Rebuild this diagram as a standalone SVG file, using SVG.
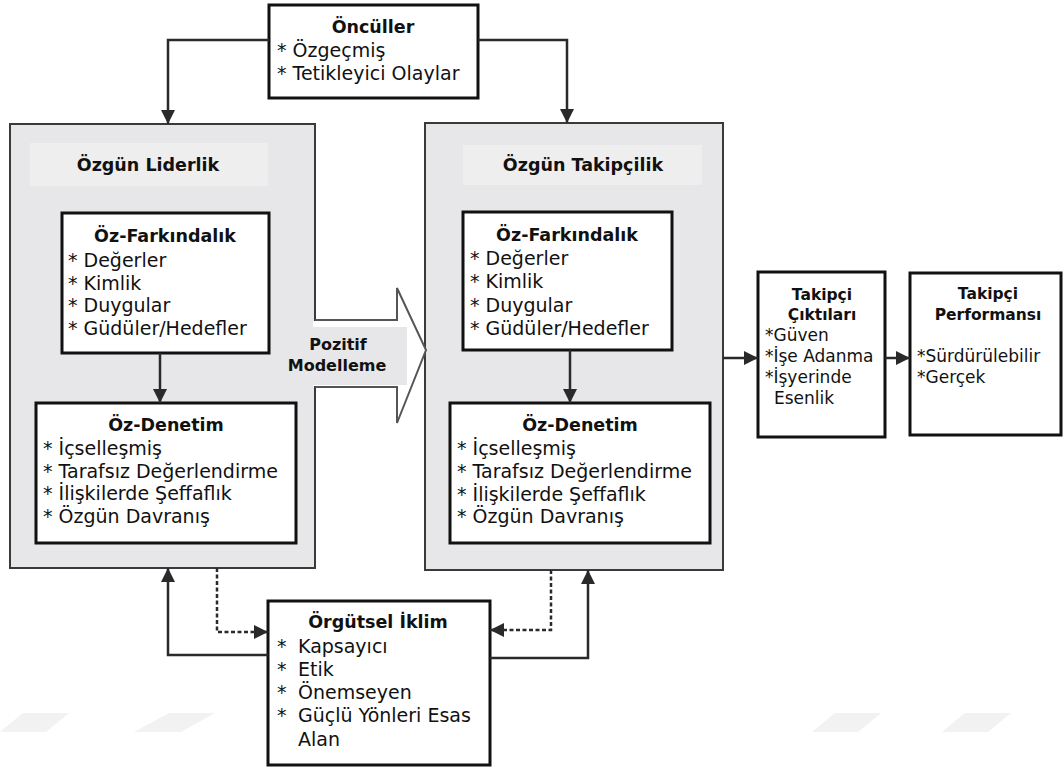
<svg xmlns="http://www.w3.org/2000/svg" width="1064" height="769" viewBox="0 0 1064 769">
  <style>
    text { font-family: "DejaVu Sans", "Liberation Sans", sans-serif; fill: #111; }
    .t { font-weight: bold; font-size: 17.5px; text-anchor: middle; }
    .i { font-size: 19px; }
    .ts { font-weight: bold; font-size: 15.5px; text-anchor: middle; }
    .is { font-size: 17px; }
    .pm { font-weight: bold; font-size: 16px; text-anchor: middle; }
    .big { fill: #e7e7e9; stroke: #3a3a3a; stroke-width: 2; }
    .band { fill: #eeeeef; }
    .box { fill: #fff; stroke: #111; stroke-width: 3; }
    .line { fill: none; stroke: #2a2a2a; stroke-width: 2.5; }
    .dash { fill: none; stroke: #2a2a2a; stroke-width: 2.5; stroke-dasharray: 4 2.5; }
    .mark { fill: #2a2a2a; }
    .wm { fill: #f2f2f2; }
  </style>
  <defs>
    <marker id="arr" markerUnits="userSpaceOnUse" markerWidth="16" markerHeight="14" refX="14" refY="7" orient="auto">
      <path class="mark" d="M0,0 L14,7 L0,14 Z"/>
    </marker>
  </defs>

  <rect width="1064" height="769" fill="#fff"/>

  <!-- faint background bars -->
  <g id="backdrop">
    <polygon class="wm" points="23,713 69,713 46,732 0,732"/>
    <polygon class="wm" points="169,713 215,713 181,732 134,732"/>
    <polygon class="wm" points="835,713 881,713 858,732 812,732"/>
    <polygon class="wm" points="965,713 1011,713 988,732 942,732"/>
  </g>

  <!-- Özgün Liderlik -->
  <g id="ozgun-liderlik">
    <rect class="big" x="10" y="124" width="305" height="444"/>
    <rect class="band" x="30" y="143" width="238" height="43"/>
    <text class="t" x="148" y="171">Özgün Liderlik</text>
  </g>

  <!-- Özgün Takipçilik -->
  <g id="ozgun-takipcilik">
    <rect class="big" x="425" y="123" width="298" height="447"/>
    <rect class="band" x="463" y="145" width="239" height="40"/>
    <text class="t" x="583" y="171">Özgün Takipçilik</text>
  </g>

  <!-- Pozitif Modelleme block arrow -->
  <g id="pozitif-modelleme">
    <path d="M313,321 H397 V288 L426,350 L397,423 V386 H313 Z" fill="#fff"/>
    <path d="M315,320 H397 V288 L426,350 L397,423 V387 H315" fill="none" stroke="#555" stroke-width="2"/>
    <rect x="298" y="327" width="109" height="58" fill="#e7e7e9"/>
    <text class="pm" x="338" y="350">Pozitif</text>
    <text class="pm" x="337" y="371">Modelleme</text>
  </g>

  <!-- Öncüller -->
  <g id="onculler">
    <rect class="box" x="269" y="5" width="209" height="93"/>
    <text class="t" x="373" y="33">Öncüller</text>
    <text class="i" x="277" y="57">* Özgeçmiş</text>
    <text class="i" x="277" y="80">* Tetikleyici Olaylar</text>
  </g>

  <!-- Leader: self-awareness -->
  <g id="lider-oz-farkindalik">
    <rect class="box" x="62" y="213" width="207" height="140"/>
    <text class="t" x="165" y="242">Öz-Farkındalık</text>
    <text class="i" x="68" y="267">* Değerler</text>
    <text class="i" x="68" y="290">* Kimlik</text>
    <text class="i" x="68" y="312">* Duygular</text>
    <text class="i" x="68" y="335">* Güdüler/Hedefler</text>
  </g>

  <!-- Leader: self-regulation -->
  <g id="lider-oz-denetim">
    <rect class="box" x="36" y="403" width="260" height="140"/>
    <text class="t" x="166" y="431">Öz-Denetim</text>
    <text class="i" x="43" y="455">* İçselleşmiş</text>
    <text class="i" x="43" y="478">* Tarafsız Değerlendirme</text>
    <text class="i" x="43" y="500">* İlişkilerde Şeffaflık</text>
    <text class="i" x="43" y="523">* Özgün Davranış</text>
  </g>

  <!-- Follower: self-awareness -->
  <g id="takipci-oz-farkindalik">
    <rect class="box" x="463" y="212" width="209" height="138"/>
    <text class="t" x="567" y="241">Öz-Farkındalık</text>
    <text class="i" x="470" y="265">* Değerler</text>
    <text class="i" x="470" y="288">* Kimlik</text>
    <text class="i" x="470" y="312">* Duygular</text>
    <text class="i" x="470" y="335">* Güdüler/Hedefler</text>
  </g>

  <!-- Follower: self-regulation -->
  <g id="takipci-oz-denetim">
    <rect class="box" x="450" y="403" width="260" height="140"/>
    <text class="t" x="580" y="431">Öz-Denetim</text>
    <text class="i" x="457" y="455">* İçselleşmiş</text>
    <text class="i" x="457" y="478">* Tarafsız Değerlendirme</text>
    <text class="i" x="457" y="501">* İlişkilerde Şeffaflık</text>
    <text class="i" x="457" y="523">* Özgün Davranış</text>
  </g>

  <!-- Follower outcomes -->
  <g id="takipci-ciktilari">
    <rect class="box" x="758" y="272" width="127" height="165"/>
    <text class="ts" x="822" y="300">Takipçi</text>
    <text class="ts" x="822" y="320">Çıktıları</text>
    <text class="is" x="765" y="341">*Güven</text>
    <text class="is" x="765" y="362">*İşe Adanma</text>
    <text class="is" x="765" y="383">*İşyerinde</text>
    <text class="is" x="774" y="404">Esenlik</text>
  </g>

  <!-- Follower performance -->
  <g id="takipci-performansi">
    <rect class="box" x="910" y="273" width="151" height="162"/>
    <text class="ts" x="988" y="299">Takipçi</text>
    <text class="ts" x="988" y="320">Performansı</text>
    <text class="is" x="917" y="362">*Sürdürülebilir</text>
    <text class="is" x="917" y="383">*Gerçek</text>
  </g>

  <!-- Organizational climate -->
  <g id="orgutsel-iklim">
    <rect class="box" x="268" y="601" width="222" height="164"/>
    <text class="t" x="378" y="628">Örgütsel İklim</text>
    <text class="i" x="277" y="653">*</text>
    <text class="i" x="298" y="653">Kapsayıcı</text>
    <text class="i" x="277" y="676">*</text>
    <text class="i" x="298" y="676">Etik</text>
    <text class="i" x="277" y="699">*</text>
    <text class="i" x="298" y="699">Önemseyen</text>
    <text class="i" x="277" y="722">*</text>
    <text class="i" x="298" y="722">Güçlü Yönleri Esas</text>
    <text class="i" x="298" y="746">Alan</text>
  </g>

  <!-- Connectors -->
  <g id="connectors">
    <path class="line" d="M269,40 H168 V124" marker-end="url(#arr)"/>
    <path class="line" d="M478,40 H567 V123" marker-end="url(#arr)"/>
    <path class="line" d="M160,353 V403" marker-end="url(#arr)"/>
    <path class="line" d="M570,350 V403" marker-end="url(#arr)"/>
    <path class="line" d="M723,358 H758" marker-end="url(#arr)"/>
    <path class="line" d="M885,358 H910" marker-end="url(#arr)"/>
    <path class="line" d="M268,655 H168 V568" marker-end="url(#arr)"/>
    <path class="dash" d="M217,568 V632 H268" marker-end="url(#arr)"/>
    <path class="dash" d="M551,570 V630 H490" marker-end="url(#arr)"/>
    <path class="line" d="M490,658 H588 V570" marker-end="url(#arr)"/>
  </g>
</svg>
